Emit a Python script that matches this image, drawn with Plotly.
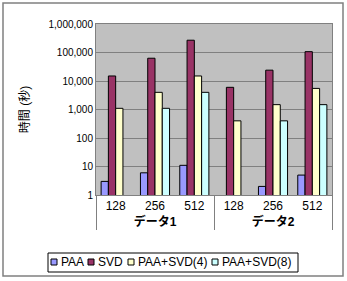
import plotly.graph_objects as go

groups = ["<b>データ1</b>"] * 3 + ["<b>データ2</b>"] * 3
sizes = ["128", "256", "512", "128", "256", "512"]
paa = [3, 6, 11, None, 2, 5]
svd = [15000, 63000, 270000, 6000, 24000, 107000]
paa_svd4 = [1100, 4000, 15000, 400, 1480, 5500]
paa_svd8 = [None, 1100, 4000, None, 400, 1480]
series = [("PAA", paa, "#9999FF"), ("SVD", svd, "#993366"),
          ("PAA+SVD(4)", paa_svd4, "#FFFFCC"), ("PAA+SVD(8)", paa_svd8, "#CCFFFF")]
yticks = [1, 10, 100, 1000, 10000, 100000, 1000000]

W, H = 347, 281
L, R, T, B = 96, 15, 24, 86
PW, PH = W - L - R, H - T - B


def px(x):
    return (x - L) / PW


def py(y):
    return (H - B - y) / PH


font = "Liberation Sans, Noto Sans CJK JP, sans-serif"
fig = go.Figure()
for name, vals, col in series:
    fig.add_trace(go.Bar(x=[groups, sizes], y=vals, name=name, showlegend=False,
                         marker=dict(color=col, line=dict(color="black", width=1))))

shapes = [dict(type="rect", xref="paper", yref="paper",
               x0=px(3), x1=px(343), y0=py(276), y1=py(3),
               line=dict(color="#808080", width=1.5), layer="below"),
          dict(type="rect", xref="paper", yref="paper",
               x0=px(48), x1=px(298), y0=py(272), y1=py(253),
               line=dict(color="black", width=1))]
annotations = []
legend_x = [51, 88, 128, 212]
for (name, _, col), lx in zip(series, legend_x):
    shapes.append(dict(type="rect", xref="paper", yref="paper",
                       x0=px(lx), x1=px(lx + 6), y0=py(265), y1=py(259),
                       fillcolor=col, line=dict(color="black", width=1)))
    annotations.append(dict(xref="paper", yref="paper", x=px(lx + 8), y=py(262),
                            xanchor="left", yanchor="middle", showarrow=False,
                            text=name, font=dict(size=12, family=font)))

fig.update_layout(
    width=W, height=H, barmode="group", bargap=0.26, bargroupgap=0,
    margin=dict(l=L, r=R, t=T, b=B),
    paper_bgcolor="white", plot_bgcolor="#C0C0C0",
    font=dict(family=font, size=10, color="black"),
    showlegend=False, shapes=shapes, annotations=annotations,
)
fig.update_yaxes(type="log", range=[0, 6], tickvals=yticks,
                 ticktext=[f"{v:,}" for v in yticks],
                 gridcolor="#808080", showline=True, linecolor="#808080",
                 mirror=True, ticks="", title=dict(text="時間 (秒)", standoff=16,
                 font=dict(size=12, color="black")))
fig.update_xaxes(showline=True, linecolor="#808080", mirror=True,
                 showdividers=True, dividercolor="#808080", dividerwidth=1,
                 tickfont=dict(size=12))
fig.write_html("out.html")
